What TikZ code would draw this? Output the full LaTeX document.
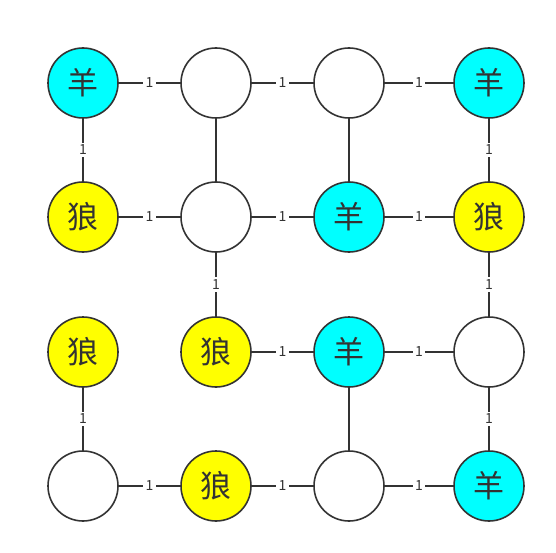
\documentclass[tikz,border=0pt]{standalone}
\usepackage{fontspec}
\setmainfont{Noto Sans CJK SC}
\usepackage{xcolor}
\usepackage{tikz}
\usetikzlibrary{positioning}
\definecolor{linegray}{RGB}{51,51,51}
\definecolor{sheepcyan}{RGB}{0,255,255}
\definecolor{wolfyellow}{RGB}{255,255,0}

\begin{document}
\begin{tikzpicture}[x=1pt, y=-1pt, line width=1.8pt, draw=linegray,
        cell/.style={circle, draw=linegray, line width=1.6pt, fill=white,
                     minimum size=70pt, inner sep=0pt,
                     font=\fontsize{31}{31}\selectfont, text=linegray},
        sheep/.style={cell, fill=sheepcyan},
        wolf/.style={cell, fill=wolfyellow},
        lbl/.style={fill=white, inner sep=2.5pt, text=linegray,
                    font=\fontsize{14}{14}\selectfont}]

      \useasboundingbox (0,0) rectangle (556,553);

      % row 1
      \node[sheep] (s1) at (83,83)  {羊};
      \node[cell]  (e1) at (216,83) {};
      \node[cell]  (e2) at (349,83) {};
      \node[sheep] (s2) at (489,83) {羊};
      % row 2
      \node[wolf]  (w1) at (83,217)  {狼};
      \node[cell]  (e3) at (216,217) {};
      \node[sheep] (s3) at (349,217) {羊};
      \node[wolf]  (w2) at (489,217) {狼};
      % row 3
      \node[wolf]  (w3) at (83,352)  {狼};
      \node[wolf]  (w4) at (216,352) {狼};
      \node[sheep] (s4) at (349,352) {羊};
      \node[cell]  (e4) at (489,352) {};
      % row 4
      \node[cell]  (e5) at (83,486)  {};
      \node[wolf]  (w5) at (216,486) {狼};
      \node[cell]  (e6) at (349,486) {};
      \node[sheep] (s5) at (489,486) {羊};

      \draw[linegray] (s1) -- node[lbl]{1} (e1);
      \draw[linegray] (e1) -- node[lbl]{1} (e2);
      \draw[linegray] (e2) -- node[lbl]{1} (s2);
      \draw[linegray] (s1) -- node[lbl]{1} (w1);
      \draw[linegray] (e1) -- (e3);
      \draw[linegray] (e2) -- (s3);
      \draw[linegray] (s2) -- node[lbl]{1} (w2);

      \draw[linegray] (w1) -- node[lbl]{1} (e3);
      \draw[linegray] (e3) -- node[lbl]{1} (s3);
      \draw[linegray] (s3) -- node[lbl]{1} (w2);
      \draw[linegray] (e3) -- node[lbl]{1} (w4);
      \draw[linegray] (w2) -- node[lbl]{1} (e4);

      \draw[linegray] (w4) -- node[lbl]{1} (s4);
      \draw[linegray] (s4) -- node[lbl]{1} (e4);
      \draw[linegray] (w3) -- node[lbl]{1} (e5);
      \draw[linegray] (s4) -- (e6);
      \draw[linegray] (e4) -- node[lbl]{1} (s5);

      \draw[linegray] (e5) -- node[lbl]{1} (w5);
      \draw[linegray] (w5) -- node[lbl]{1} (e6);
      \draw[linegray] (e6) -- node[lbl]{1} (s5);
    \end{tikzpicture}
\end{document}
